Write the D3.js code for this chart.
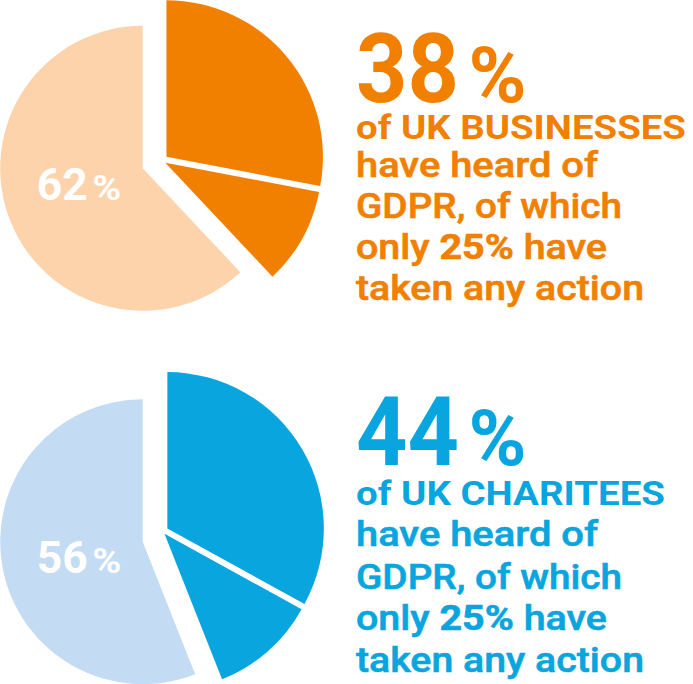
<!DOCTYPE html>
<html><head><meta charset="utf-8">
<script src="https://cdn.jsdelivr.net/npm/d3@7"></script>
<style>body{margin:0;background:#fff}svg{display:block}</style>
</head><body>
<script>
// ---- data ----
const groups = ["UK BUSINESSES", "UK CHARITEES"];
const heardNoAction = [28, 33];     // heard of GDPR, no action
const heardTookAction = [10, 11];   // heard of GDPR, took action
const notHeard = [62, 56];          // not heard of GDPR
const actionShare = ["25%", "25%"];
const bodyLines = [
  [["have heard of", 500]],
  [["GDPR, of which", 500]],
  [["only ", 500], ["{share}", 700], [" have", 500]],
  [["taken any action", 500]]
];

// ---- style / layout ----
const palette = [
  {dark: "#F18000", light: "#FDD3AB"},
  {dark: "#09A5DE", light: "#C3DCF3"}
];
const layout = [
  {cx: 142.7, cy: 168.3, off: [23.2, -8.6], base: [102, 138.5, 177, 218, 259, 300], numW: 103, subW: 330},
  {cx: 142.7, cy: 541.7, off: [23.2, -10.5], base: [465, 505, 546, 588.5, 630, 671.5], numW: 103, subW: 309}
];
const lineW = [242, 266, 251, 288];
const rLight = 142.5, rDark = 156.5, gap = 3;
const FONT = "Roboto, 'Noto Sans', 'DejaVu Sans', sans-serif";

const W = 693, H = 684;
const svg = d3.select("body").append("svg").attr("width", W).attr("height", H)
  .style("font-family", FONT);

const pie = d3.pie().sort(null).value(d => d.v);
const arcLight = d3.arc().innerRadius(0).outerRadius(rLight);
const arcDark = d3.arc().innerRadius(0).outerRadius(rDark);

groups.forEach((g, i) => {
  const L = layout[i], P = palette[i];
  const slices = pie([
    {k: "noaction", v: heardNoAction[i], dark: true},
    {k: "action", v: heardTookAction[i], dark: true},
    {k: "notheard", v: notHeard[i], dark: false}
  ]);
  const theta = slices[0].endAngle;
  const n = [Math.cos(theta), Math.sin(theta)];
  const gEl = svg.append("g").attr("transform", `translate(${L.cx},${L.cy})`);

  slices.forEach((s, j) => {
    if (!s.data.dark) {
      gEl.append("path").attr("d", arcLight(s)).attr("fill", P.light);
    } else {
      const sign = j === 0 ? -1 : 1;
      const dx = L.off[0] + sign * gap * n[0];
      const dy = L.off[1] + sign * gap * n[1];
      gEl.append("path").attr("d", arcDark(s)).attr("fill", P.dark)
        .attr("transform", `translate(${dx},${dy})`);
    }
  });

  // pie label (not heard)
  gEl.append("text").attr("x", -106).attr("y", 31.7)
    .attr("font-size", 45).attr("font-weight", 700).attr("fill", "#fff")
    .attr("textLength", 51).attr("lengthAdjust", "spacingAndGlyphs")
    .text(String(notHeard[i]));
  gEl.append("text").attr("x", -50.5).attr("y", 31.7)
    .attr("font-size", 35).attr("font-weight", 700).attr("fill", "#fff")
    .attr("textLength", 29).attr("lengthAdjust", "spacingAndGlyphs")
    .text("%");

  // headline number
  const total = heardNoAction[i] + heardTookAction[i];
  svg.append("text").attr("x", 356).attr("y", L.base[0])
    .attr("font-size", 96).attr("font-weight", 700).attr("fill", P.dark)
    .attr("textLength", L.numW).attr("lengthAdjust", "spacingAndGlyphs")
    .text(String(total));
  svg.append("text").attr("x", 468.5).attr("y", L.base[0])
    .attr("font-size", 78).attr("font-weight", 700).attr("fill", P.dark)
    .attr("textLength", 58).attr("lengthAdjust", "spacingAndGlyphs")
    .text("%");

  svg.append("text").attr("x", 356).attr("y", L.base[1])
    .attr("font-size", 33).attr("font-weight", 700).attr("fill", P.dark)
    .attr("textLength", L.subW).attr("lengthAdjust", "spacingAndGlyphs")
    .text("of " + g);

  bodyLines.forEach((parts, k) => {
    const t = svg.append("text").attr("x", 356).attr("y", L.base[k + 2])
      .attr("font-size", 35).attr("fill", P.dark)
      .attr("stroke", P.dark).attr("stroke-width", 0.6)
      .attr("textLength", lineW[k]).attr("lengthAdjust", "spacingAndGlyphs")
      .style("white-space", "pre");
    parts.forEach(([txt, w]) => {
      t.append("tspan").attr("font-weight", w).text(txt.replace("{share}", actionShare[i]));
    });
  });
});
</script>
</body></html>
